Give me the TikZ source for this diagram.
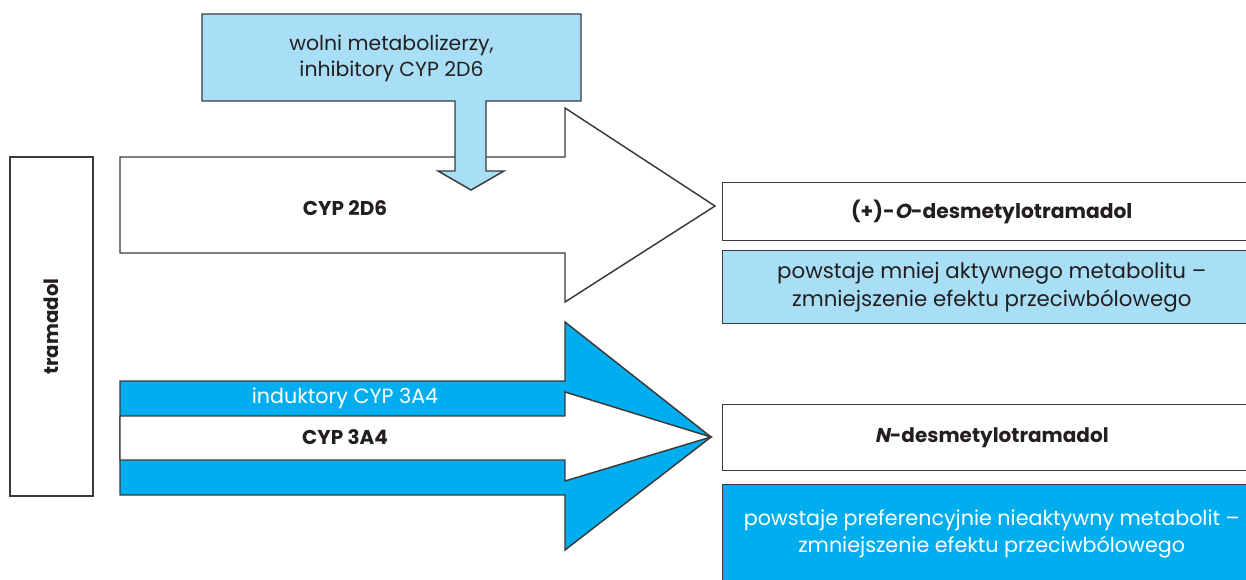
\documentclass[tikz,border=0pt]{standalone}
\usepackage{fontspec}
\setmainfont{Poppins}
\newfontfamily\slfam{Poppins}[FakeSlant=0.2]
\definecolor{lightblue}{RGB}{168,223,246}
\definecolor{cyanblue}{RGB}{0,174,239}
\definecolor{linegray}{RGB}{58,58,58}
\definecolor{textdark}{RGB}{35,31,32}
\begin{document}
\begin{tikzpicture}[x=0.75pt,y=-0.75pt,
  outl/.style={draw=linegray, line width=1.1pt, line join=miter},
  txt/.style={font=\fontsize{15.5}{20.5}\selectfont, text=textdark, align=center, inner sep=0pt},
  boldtxt/.style={txt, font=\fontsize{15}{20}\selectfont\bfseries},
  rbox/.style={outl, txt, anchor=north west, minimum width={538*0.75pt}}
]
\useasboundingbox (0,0) rectangle (1246,579);
\clip (0,0) rectangle (1246,579);

% tramadol box
\node[outl, fill=white, minimum width={83*0.75pt}, minimum height={339*0.75pt}, inner sep=0pt] (tram) at (51.5,326.5) {};
\node[boldtxt, rotate=90, font=\fontsize{14.8}{18}\selectfont\bfseries] (tramlbl) at (tram.center) {tramadol};

% upper (CYP 2D6) arrow
\draw[outl, fill=white] (120,157) -- (565,157) -- (565,108) -- (715,206) -- (565,302) -- (565,253) -- (120,253) -- cycle;
\node[boldtxt] (cyp2d6) at (345,208) {CYP 2D6};

% inhibitor box with down arrow
\draw[outl, fill=lightblue] (202,14) -- (581,14) -- (581,101) -- (486,101) -- (486,171) -- (504,171) -- (471,190) -- (438,171) -- (455,171) -- (455,101) -- (202,101) -- cycle;
\node[txt, font=\fontsize{15.3}{19.5}\selectfont] (slow) at (391.5,58) {wolni metabolizerzy,\\inhibitory CYP 2D6};

% lower (CYP 3A4) arrow
\draw[outl, fill=cyanblue] (120,381) -- (565,381) -- (565,322) -- (711,437) -- (565,550) -- (565,495) -- (120,495) -- cycle;
\draw[outl, fill=white] (120,416) -- (565,416) -- (565,392) -- (711,437) -- (565,481) -- (565,460) -- (120,460) -- cycle;
\node[txt, text=white] (ind) at (345,398) {induktory CYP 3A4};
\node[boldtxt] (cyp3a4) at (345,437) {CYP 3A4};

% right boxes
\node[rbox, fill=white, minimum height={58*0.75pt}, font=\fontsize{15.2}{19.5}\selectfont\bfseries] (odes) at (722,182) {(+)-{\slfam O}-desmetylotramadol};
\node[rbox, fill=lightblue, minimum height={73*0.75pt}, font=\fontsize{16}{21}\selectfont] (less) at (722,250) {powstaje mniej aktywnego metabolitu –\\zmniejszenie efektu przeciwbólowego};
\node[rbox, fill=white, minimum height={66*0.75pt}, font=\fontsize{15}{19.5}\selectfont\bfseries] (ndes) at (722,404) {{\slfam N}-desmetylotramadol};
\node[rbox, fill=cyanblue, text=white, minimum height={98*0.75pt}] (inact) at (722,484) {powstaje preferencyjnie nieaktywny metabolit –\\zmniejszenie efektu przeciwbólowego};
\end{tikzpicture}
\end{document}
